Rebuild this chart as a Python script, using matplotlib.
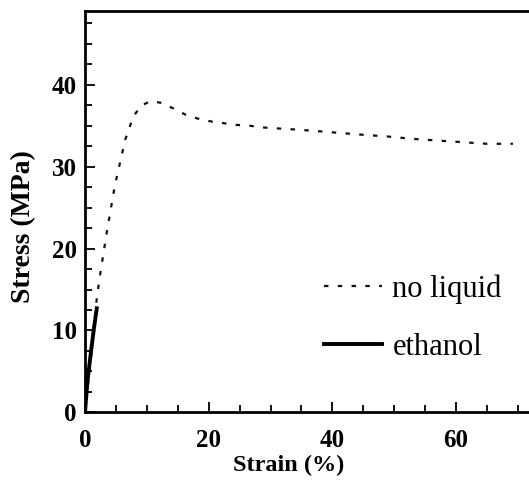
import matplotlib.pyplot as plt
from matplotlib.ticker import MultipleLocator

plt.rcParams['font.family'] = ['Liberation Serif', 'DejaVu Serif']

# no liquid curve (dotted)
strain_dry = [0, 1.0, 1.9, 2.4, 3.5, 4.8, 6.5, 7.8, 9.0, 10.5, 12.4, 14.6, 16.4,
              18.6, 20.6, 22.6, 24.6, 26.7, 28.7, 30.7, 35, 40, 45, 48.8, 53,
              57, 61, 65, 69.2]
stress_dry = [0, 7.0, 13.9, 16.6, 21.9, 27.6, 33.3, 36.1, 37.4, 38.0, 37.8, 37.0,
              36.3, 35.8, 35.5, 35.3, 35.1, 35.0, 34.8, 34.7, 34.5, 34.2, 33.9,
              33.7, 33.4, 33.2, 33.0, 32.8, 32.8]

# ethanol curve (solid)
strain_eth = [0, 0.15, 0.4, 0.9, 1.4, 1.9]
stress_eth = [0, 1.5, 3.8, 7.0, 10.0, 12.7]

fig = plt.figure(figsize=(5.29, 4.86), dpi=100)
ax = fig.add_axes([0.1607, 0.1516, 0.8393, 0.8254])

ax.plot(strain_dry, stress_dry, color='#111111', lw=1.6, dashes=(2.0, 4.2),
        label='no liquid')
ax.plot(strain_eth, stress_eth, color='black', lw=2.8, label='ethanol')

ax.set_xlim(0, 71.8)
ax.set_ylim(0, 49)
ax.xaxis.set_major_locator(MultipleLocator(20))
ax.xaxis.set_minor_locator(MultipleLocator(5))
ax.yaxis.set_major_locator(MultipleLocator(10))
ax.yaxis.set_minor_locator(MultipleLocator(2.5))

for s in ['left', 'bottom', 'top']:
    ax.spines[s].set_linewidth(2.0)
ax.spines['right'].set_visible(False)

ax.tick_params(which='both', direction='in', top=False, right=False, width=1.3)
ax.tick_params(which='major', length=7)
ax.tick_params(which='minor', length=5)
ax.tick_params(axis='y', which='major', pad=6)
ax.tick_params(axis='x', which='major', pad=12)
for lab in ax.get_xticklabels() + ax.get_yticklabels():
    lab.set_fontsize(18)
    lab.set_fontweight('bold')

ax.set_xlabel('Strain (%)', fontsize=17.5, fontweight='bold')
ax.set_ylabel('Stress (MPa)', fontsize=20, fontweight='bold')
ax.xaxis.set_label_coords(0.459, -0.105)
ax.yaxis.set_label_coords(-0.109, 0.464)

ax.legend(loc='upper left', bbox_to_anchor=(0.51, 0.375), frameon=False,
          fontsize=22, handlelength=1.9, handletextpad=0.35, labelspacing=0.95,
          borderaxespad=0)

fig.savefig('out.png', dpi=100)
